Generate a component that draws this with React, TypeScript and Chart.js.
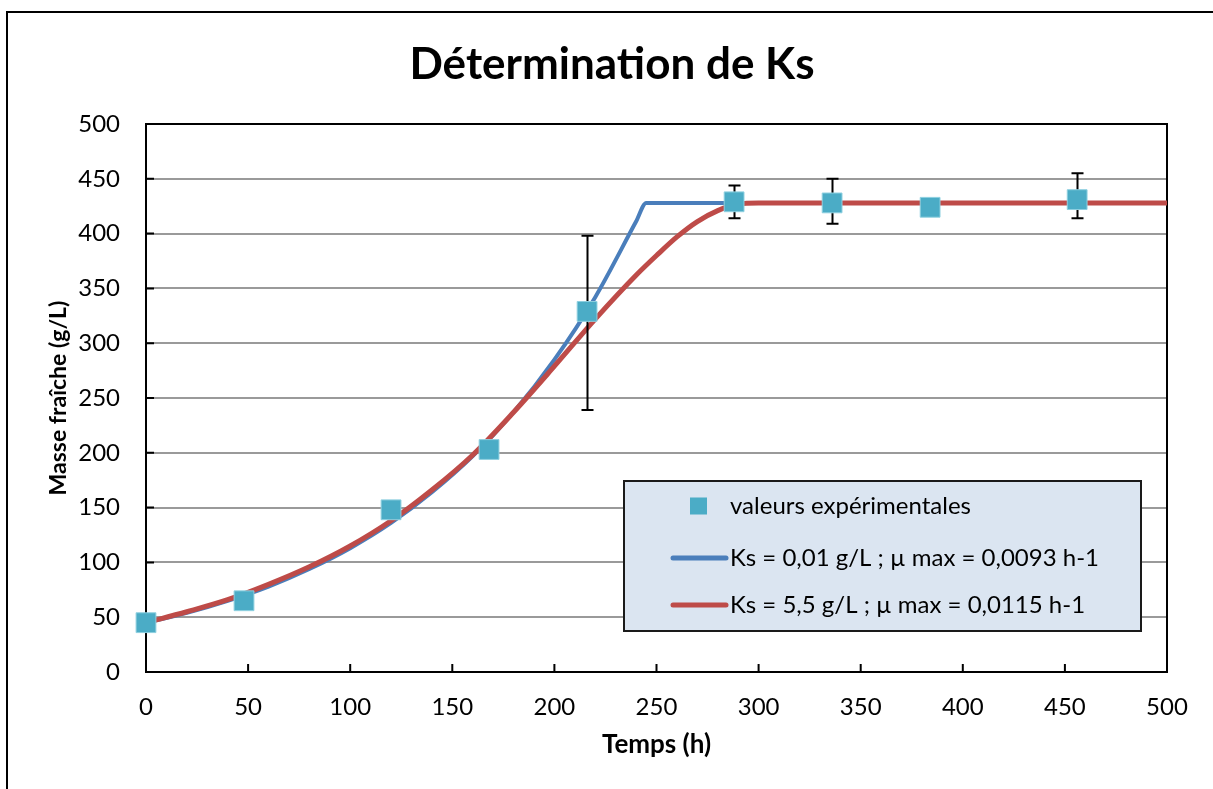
import React, { useEffect, useRef } from "react";
import { Chart, registerables } from "chart.js";

Chart.register(...registerables);

// ---- data ----
const titleText = "Détermination de Ks";
const xTitle = "Temps (h)";
const yTitle = "Masse fraîche (g/L)";

const expLabel = "valeurs expérimentales";
const expTime = [0, 48, 120, 168, 216, 288, 336, 384, 456];
const expMass = [45, 65, 148, 203, 329, 429, 428, 424, 431];
const expErrPlus = [0, 0, 0, 0, 69, 15, 22, 0, 24];
const expErrMinus = [0, 0, 0, 0, 90, 15, 19, 0, 17];

const blueLabel = "Ks = 0,01 g/L ; µ max = 0,0093 h-1";
const blueTime = [0, 20, 40, 60, 80, 100, 120, 140, 160, 180, 200, 220, 240, 245, 500];
const blueMass = [45, 54, 65, 78, 94, 113, 136, 164, 197, 237, 285, 342, 411, 428, 428];

const redLabel = "Ks = 5,5 g/L ; µ max = 0,0115 h-1";
const redTime = [0, 20, 40, 60, 80, 100, 120, 140, 160, 180, 200, 220, 240, 250, 260, 270, 280, 290, 300, 500];
const redMass = [45, 55, 66, 80, 96, 115, 138, 166, 198, 237, 279, 322, 362, 380, 397, 411, 421, 427, 428, 428];

const xTicks = [0, 50, 100, 150, 200, 250, 300, 350, 400, 450, 500];
const yTicks = [0, 50, 100, 150, 200, 250, 300, 350, 400, 450, 500];

const FONT = "Lato, 'Open Sans', sans-serif";
const EXP_COLOR = "#4bacc6";
const BLUE = "#4a7ebb";
const RED = "#be4b48";

const toPoints = (xs: number[], ys: number[]) => xs.map((x, i) => ({ x, y: ys[i] }));

const decorPlugin = {
  id: "decor",
  beforeDatasetsDraw(chart: any) {
    const { ctx, chartArea } = chart;
    const { left, right, top, bottom } = chartArea;
    const xs = chart.scales.x;
    const ys = chart.scales.y;
    ctx.save();
    ctx.strokeStyle = "#000";
    ctx.lineWidth = 2;
    ctx.strokeRect(left, top, right - left, bottom - top);
    ctx.beginPath();
    yTicks.forEach((v) => {
      const py = ys.getPixelForValue(v);
      ctx.moveTo(left, py);
      ctx.lineTo(left + 8, py);
    });
    xTicks.forEach((v) => {
      const px = xs.getPixelForValue(v);
      ctx.moveTo(px, bottom);
      ctx.lineTo(px, bottom - 8);
    });
    ctx.stroke();
    ctx.restore();
  },
  beforeDatasetDraw(chart: any, args: any) {
    if (args.index !== 0) return;
    const { ctx } = chart;
    const xs = chart.scales.x;
    const ys = chart.scales.y;
    ctx.save();
    ctx.strokeStyle = "#000";
    ctx.lineWidth = 2;
    ctx.beginPath();
    expTime.forEach((t, i) => {
      const up = expErrPlus[i];
      const dn = expErrMinus[i];
      if (!up && !dn) return;
      const px = Math.round(xs.getPixelForValue(t)) + 0.5;
      const yTop = ys.getPixelForValue(expMass[i] + up);
      const yBot = ys.getPixelForValue(expMass[i] - dn);
      ctx.moveTo(px, yTop);
      ctx.lineTo(px, yBot);
      ctx.moveTo(px - 6, yTop);
      ctx.lineTo(px + 6, yTop);
      ctx.moveTo(px - 6, yBot);
      ctx.lineTo(px + 6, yBot);
    });
    ctx.stroke();
    ctx.restore();
  },
  afterDraw(chart: any) {
    const { ctx } = chart;
    const ds = chart.data.datasets;
    const bx = 624, by = 481, bw = 517, bh = 150;
    ctx.save();
    ctx.fillStyle = "#dbe5f1";
    ctx.fillRect(bx, by, bw, bh);
    ctx.strokeStyle = "#1a1a1a";
    ctx.lineWidth = 2;
    ctx.strokeRect(bx, by, bw, bh);
    const rows = [506, 558, 605];
    ctx.font = `24px ${FONT}`;
    ctx.textBaseline = "middle";
    ctx.textAlign = "left";
    ctx.fillStyle = "#000";
    ds.forEach((d: any, i: number) => {
      const cy = rows[i];
      if (i === 0) {
        ctx.fillStyle = EXP_COLOR;
        ctx.fillRect(690, cy - 8.5, 17, 17);
      } else {
        ctx.strokeStyle = d.borderColor;
        ctx.lineWidth = 5;
        ctx.lineCap = "round";
        ctx.beginPath();
        ctx.moveTo(673, cy);
        ctx.lineTo(726, cy);
        ctx.stroke();
      }
      ctx.fillStyle = "#000";
      ctx.fillText(d.label, 730, cy);
    });
    ctx.restore();
  },
};

export default function App() {
  const ref = useRef<HTMLCanvasElement | null>(null);
  useEffect(() => {
    if (!ref.current) return;
    const chart = new Chart(ref.current, {
      type: "scatter",
      data: {
        datasets: [
          {
            label: expLabel,
            data: toPoints(expTime, expMass),
            pointStyle: "rect",
            pointRadius: 14,
            pointHoverRadius: 14,
            backgroundColor: EXP_COLOR,
            borderColor: "#8fd0e0",
            borderWidth: 1,
            showLine: false,
            clip: false,
            order: 0,
          },
          {
            label: blueLabel,
            data: toPoints(blueTime, blueMass),
            showLine: true,
            borderColor: BLUE,
            backgroundColor: BLUE,
            borderWidth: 4,
            pointRadius: 0,
            cubicInterpolationMode: "monotone",
            order: 2,
          },
          {
            label: redLabel,
            data: toPoints(redTime, redMass),
            showLine: true,
            borderColor: RED,
            backgroundColor: RED,
            borderWidth: 5,
            pointRadius: 0,
            cubicInterpolationMode: "monotone",
            order: 1,
          },
        ],
      },
      options: {
        responsive: false,
        animation: false,
        events: [],
        layout: { padding: { left: 57, right: 46, top: 0, bottom: 0 } },
        plugins: {
          legend: { display: false },
          tooltip: { enabled: false },
          title: {
            display: true,
            text: titleText,
            color: "#000",
            font: { family: FONT, size: 44, weight: "bold", lineHeight: 1.2 },
            padding: { top: 38.6, bottom: 32.6 },
          },
        },
        scales: {
          x: {
            type: "linear",
            min: 0,
            max: 500,
            afterFit: (s: any) => { s.height = 117; },
            afterBuildTicks: (s: any) => { s.ticks = xTicks.map((v) => ({ value: v })); },
            grid: { display: false, drawTicks: false },
            border: { display: false },
            ticks: { color: "#000", padding: 21, font: { family: FONT, size: 24 } },
            title: {
              display: true,
              text: xTitle,
              color: "#000",
              font: { family: FONT, size: 26, weight: "bold", lineHeight: 1.2 },
              padding: { top: 0, bottom: 28.4 },
            },
          },
          y: {
            min: 0,
            max: 500,
            afterFit: (s: any) => { s.width = 89; },
            afterBuildTicks: (s: any) => { s.ticks = yTicks.map((v) => ({ value: v })); },
            grid: { color: "#9a9a9a", lineWidth: 2, drawTicks: false },
            border: { display: false },
            ticks: { color: "#000", padding: 26, font: { family: FONT, size: 24 } },
            title: {
              display: true,
              text: yTitle,
              color: "#000",
              font: { family: FONT, size: 23, weight: "bold", lineHeight: 1.2 },
              padding: { top: -12.3, bottom: 0 },
            },
          },
        },
      },
      plugins: [decorPlugin],
    } as any);
    return () => chart.destroy();
  }, []);

  return (
    <div>
      <div
        style={{
          position: "fixed",
          left: 6,
          top: 11,
          width: 1300,
          height: 900,
          borderLeft: "2px solid #000",
          borderTop: "2px solid #000",
          boxSizing: "border-box",
        }}
      />
      <canvas
        ref={ref}
        width={1213}
        height={789}
        style={{ position: "fixed", left: 0, top: 0, width: 1213, height: 789 }}
      />
    </div>
  );
}
